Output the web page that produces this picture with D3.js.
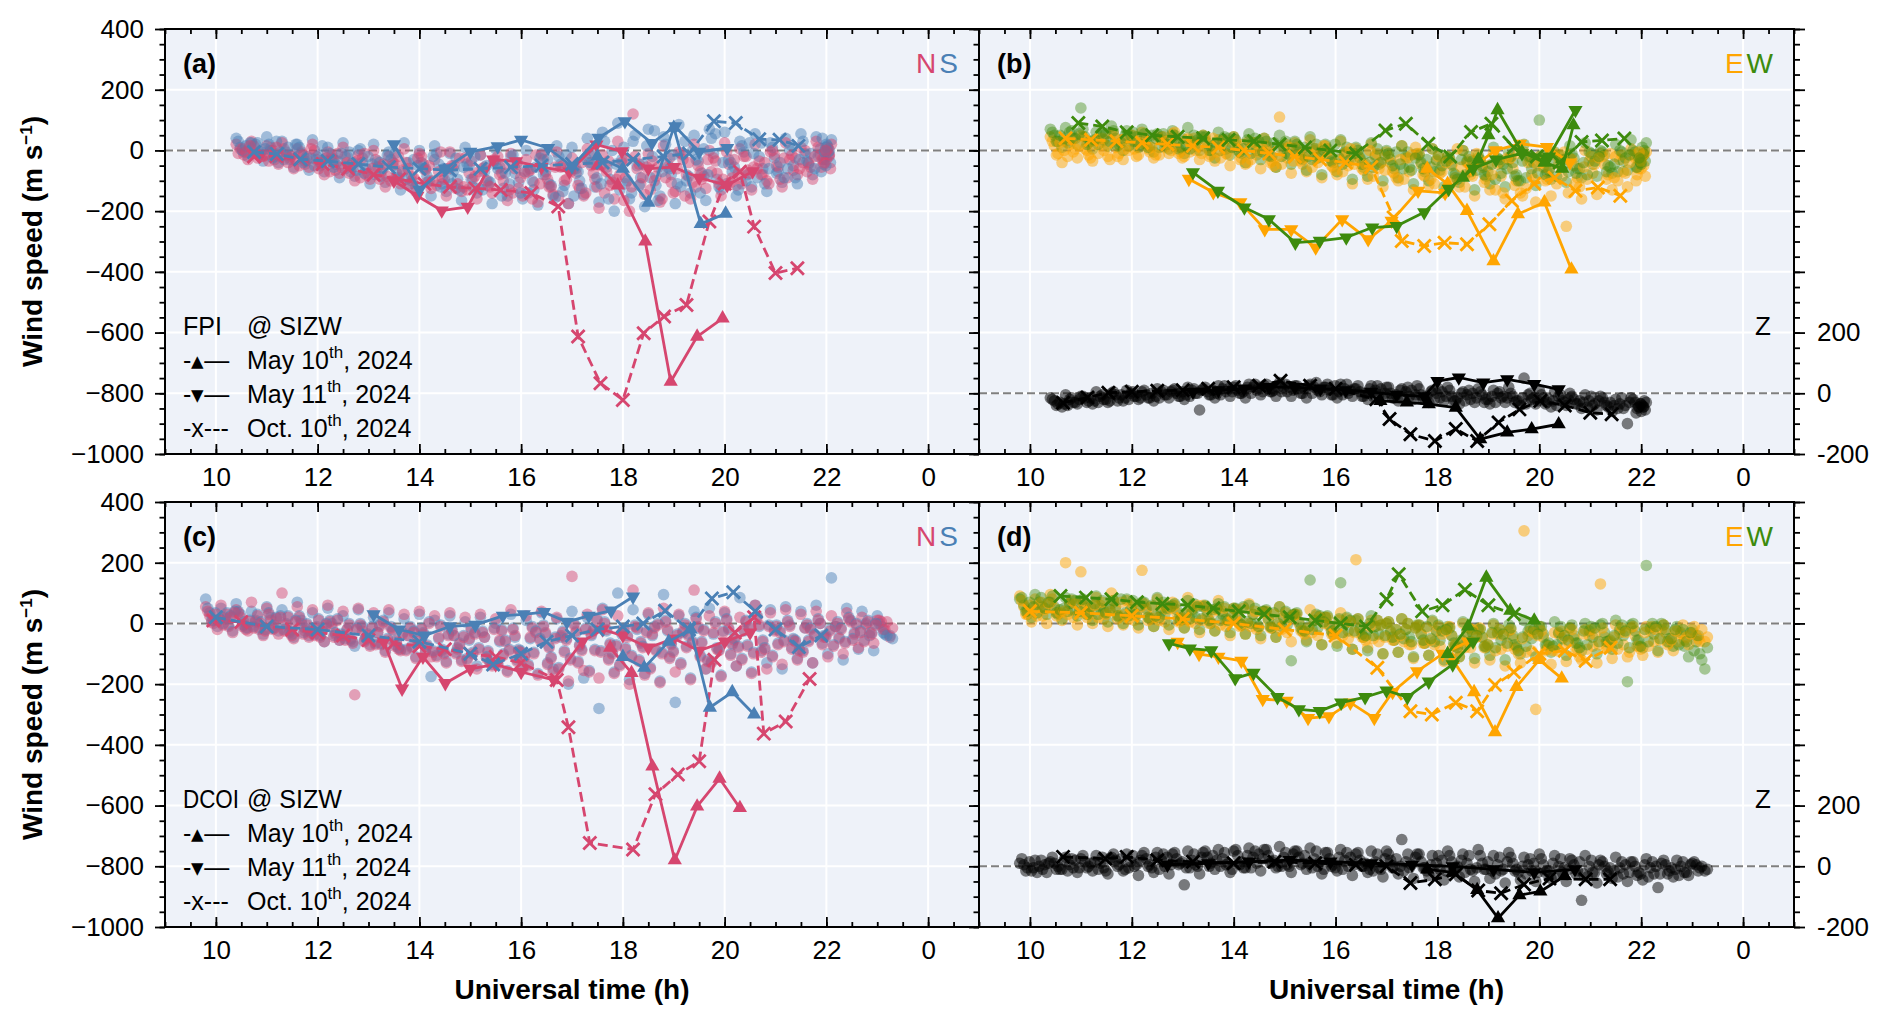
<!DOCTYPE html>
<html>
<head>
<meta charset="utf-8">
<script src="https://cdn.jsdelivr.net/npm/d3@7"></script>
<style>
  body { margin: 0; background: #ffffff; }
  svg text { font-family: "Liberation Sans", Arial, sans-serif; }
</style>
</head>
<body>
<svg id="fig" width="1892" height="1025"></svg>
<script>
// ---------------- axes / labels ----------------
const timeDomain = [9, 25];
const windDomain = [-1000, 400];
const vertDomain = [-200, 1200];
const xTicks = [10, 12, 14, 16, 18, 20, 22, 24];
const xMinor = [9, 9.5, 10, 10.5, 11, 11.5, 12, 12.5, 13, 13.5, 14, 14.5, 15, 15.5, 16, 16.5, 17, 17.5,
                18, 18.5, 19, 19.5, 20, 20.5, 21, 21.5, 22, 22.5, 23, 23.5, 24, 24.5, 25];
const yTicks = [-1000, -800, -600, -400, -200, 0, 200, 400];
const zTicks = [-200, 0, 200, 400, 600, 800, 1000, 1200];
const zTickLabels = [-200, 0, 200];
const legendSymbols = ["-\u25B4\u2014", "-\u25BE\u2014", "-x---"];
const legendDates = [["May 10", "th", ", 2024"], ["May 11", "th", ", 2024"], ["Oct. 10", "th", ", 2024"]];

// ---------------- background clouds: sample times (UT h) ----------------
const fpiT0 = [10.40,10.70,11.00,11.30,11.60,11.90,12.20,12.50,12.80,13.10,13.40,13.70,14.00,14.30,14.60,14.90,15.20,15.50,15.80,16.10,16.40,16.70,17.00,17.30,17.60,17.90,18.20,18.50,18.80,19.10,19.40,19.70,20.00,20.30,20.60,20.90,21.20,21.50,21.80,22.10];
const fpiT1 = [10.48,10.78,11.08,11.38,11.68,11.98,12.28,12.58,12.88,13.18,13.48,13.78,14.08,14.38,14.68,14.98,15.28,15.58,15.88,16.18,16.48,16.78,17.08,17.38,17.68,17.98,18.28,18.58,18.88,19.18,19.48,19.78,20.08,20.38,20.68,20.98,21.28,21.58,21.88,22.02];
const fpiT2 = [10.55,10.85,11.15,11.45,11.75,12.05,12.35,12.65,12.95,13.25,13.55,13.85,14.15,14.45,14.75,15.05,15.35,15.65,15.95,16.25,16.55,16.85,17.15,17.45,17.75,18.05,18.35,18.65,18.95,19.25,19.55,19.85,20.15,20.45,20.75,21.05,21.35,21.65,21.95,22.05];
const fpiT3 = [10.63,10.93,11.23,11.53,11.83,12.13,12.43,12.73,13.03,13.33,13.63,13.93,14.23,14.53,14.83,15.13,15.43,15.73,16.03,16.33,16.63,16.93,17.23,17.53,17.83,18.13,18.43,18.73,19.03,19.33,19.63,19.93,20.23,20.53,20.83,21.13,21.43,21.73,21.90,22.08];
const fpiT4 = [10.44,10.74,11.04,11.34,11.64,11.94,12.24,12.54,12.84,13.14,13.44,13.74,14.04,14.34,14.64,14.94,15.24,15.54,15.84,16.14,16.44,16.74,17.04,17.34,17.64,17.94,18.24,18.54,18.84,19.14,19.44,19.74,20.04,20.34,20.64,20.94,21.24,21.54,21.84,22.00];
const fpiT5 = [10.52,10.82,11.12,11.42,11.72,12.02,12.32,12.62,12.92,13.22,13.52,13.82,14.12,14.42,14.72,15.02,15.32,15.62,15.92,16.22,16.52,16.82,17.12,17.42,17.72,18.02,18.32,18.62,18.92,19.22,19.52,19.82,20.12,20.42,20.72,21.02,21.32,21.62,21.92,22.06];
const fpiT6 = [10.59,10.89,11.19,11.49,11.79,12.09,12.39,12.69,12.99,13.29,13.59,13.89,14.19,14.49,14.79,15.09,15.39,15.69,15.99,16.29,16.59,16.89,17.19,17.49,17.79,18.09,18.39,18.69,18.99,19.29,19.59,19.89,20.19,20.49,20.79,21.09,21.39,21.69,21.99,22.04];
const fpiT7 = [10.67,10.97,11.27,11.57,11.87,12.17,12.47,12.77,13.07,13.37,13.67,13.97,14.27,14.57,14.87,15.17,15.47,15.77,16.07,16.37,16.67,16.97,17.27,17.57,17.87,18.17,18.47,18.77,19.07,19.37,19.67,19.97,20.27,20.57,20.87,21.17,21.47,21.77,21.96,21.99];

const dcoT0 = [9.80,10.10,10.40,10.70,11.00,11.30,11.60,11.90,12.20,12.50,12.80,13.10,13.40,13.70,14.00,14.30,14.60,14.90,15.20,15.50,15.80,16.10,16.40,16.70,17.00,17.30,17.60,17.90,18.20,18.50,18.80,19.10,19.40,19.70,20.00,20.30,20.60,20.90,21.20,21.50,21.80,22.10,22.40,22.70,23.00];
const dcoT1 = [9.88,10.18,10.48,10.78,11.08,11.38,11.68,11.98,12.28,12.58,12.88,13.18,13.48,13.78,14.08,14.38,14.68,14.98,15.28,15.58,15.88,16.18,16.48,16.78,17.08,17.38,17.68,17.98,18.28,18.58,18.88,19.18,19.48,19.78,20.08,20.38,20.68,20.98,21.28,21.58,21.88,22.18,22.48,22.78,23.08];
const dcoT2 = [9.95,10.25,10.55,10.85,11.15,11.45,11.75,12.05,12.35,12.65,12.95,13.25,13.55,13.85,14.15,14.45,14.75,15.05,15.35,15.65,15.95,16.25,16.55,16.85,17.15,17.45,17.75,18.05,18.35,18.65,18.95,19.25,19.55,19.85,20.15,20.45,20.75,21.05,21.35,21.65,21.95,22.25,22.55,22.85,23.15];
const dcoT3 = [10.03,10.33,10.63,10.93,11.23,11.53,11.83,12.13,12.43,12.73,13.03,13.33,13.63,13.93,14.23,14.53,14.83,15.13,15.43,15.73,16.03,16.33,16.63,16.93,17.23,17.53,17.83,18.13,18.43,18.73,19.03,19.33,19.63,19.93,20.23,20.53,20.83,21.13,21.43,21.73,22.03,22.33,22.63,22.93,23.25];
const dcoT4 = [9.84,10.14,10.44,10.74,11.04,11.34,11.64,11.94,12.24,12.54,12.84,13.14,13.44,13.74,14.04,14.34,14.64,14.94,15.24,15.54,15.84,16.14,16.44,16.74,17.04,17.34,17.64,17.94,18.24,18.54,18.84,19.14,19.44,19.74,20.04,20.34,20.64,20.94,21.24,21.54,21.84,22.14,22.44,22.74,23.04];
const dcoT5 = [9.92,10.22,10.52,10.82,11.12,11.42,11.72,12.02,12.32,12.62,12.92,13.22,13.52,13.82,14.12,14.42,14.72,15.02,15.32,15.62,15.92,16.22,16.52,16.82,17.12,17.42,17.72,18.02,18.32,18.62,18.92,19.22,19.52,19.82,20.12,20.42,20.72,21.02,21.32,21.62,21.92,22.22,22.52,22.82,23.12];
const dcoT6 = [9.99,10.29,10.59,10.89,11.19,11.49,11.79,12.09,12.39,12.69,12.99,13.29,13.59,13.89,14.19,14.49,14.79,15.09,15.39,15.69,15.99,16.29,16.59,16.89,17.19,17.49,17.79,18.09,18.39,18.69,18.99,19.29,19.59,19.89,20.19,20.49,20.79,21.09,21.39,21.69,21.99,22.29,22.59,22.89,23.19];
const dcoT7 = [10.07,10.37,10.67,10.97,11.27,11.57,11.87,12.17,12.47,12.77,13.07,13.37,13.67,13.97,14.27,14.57,14.87,15.17,15.47,15.77,16.07,16.37,16.67,16.97,17.27,17.57,17.87,18.17,18.47,18.77,19.07,19.37,19.67,19.97,20.27,20.57,20.87,21.17,21.47,21.77,22.07,22.37,22.67,22.97,23.30];

// panel (a): FPI meridional, quiet-night samples (m/s)
const aN0 = [20,30,15,25,5,20,-5,10,-15,0,-20,5,-10,-30,-5,-25,-15,-35,-10,-30,-15,-5,-25,5,-15,30,120,-10,15,-5,20,0,25,5,20,-5,25,10,30,20];
const aN1 = [5,-5,10,-15,-5,-30,-15,-40,-25,-55,-40,-60,-45,-70,-50,-75,-55,-80,-60,-65,-80,-55,-75,-50,-70,-40,-60,-35,-55,-30,-50,-25,-45,-20,-35,-15,-30,0,-15,10];
const aN2 = [-15,-10,-30,-25,-45,-40,-65,-50,-80,-70,-95,-85,-105,-90,-110,-95,-115,-100,-125,-105,-120,-100,-125,-95,-115,-90,-110,-85,-105,-80,-95,-75,-90,-65,-80,-55,-65,-40,-45,-20];
const aN3 = [-30,-20,-45,-60,-55,-80,-75,-100,-95,-120,-110,-135,-125,-150,-135,-160,-140,-165,-150,-170,-145,-175,-150,-190,-160,-200,-145,-170,-135,-160,-125,-150,-115,-130,-100,-120,-80,-95,-55,-60];
const aN4 = [-10,15,-35,5,-50,0,-70,-20,-90,-30,-100,-40,-20,-115,-50,-130,-60,-20,-140,-70,-30,-150,-60,-10,-140,-80,-20,-130,-90,-10,-120,-70,-5,-110,-60,0,-90,-40,10,-30];
const aN5 = [5,-25,0,-40,-15,-60,-30,-75,-10,-95,-45,-110,-65,-5,-125,-35,-100,-75,-45,-160,-95,-50,-115,-75,-35,-165,-45,-100,-25,-150,-70,-35,-105,-20,-80,-50,-15,-70,-30,-15];
const aN6 = [-5,-20,10,-20,-30,-45,-10,-55,-75,-45,-20,-90,-50,-95,-25,-85,-120,-45,-90,-15,-120,-95,-40,-120,-105,-30,-90,-55,-140,-40,-85,-110,-30,-75,-40,-95,-25,-55,-5,5];
const aN7 = [15,-15,-20,-30,5,-25,-55,-35,-60,-85,-65,-25,-100,-60,-120,-70,-30,-130,-75,-110,-55,-70,-140,-50,-95,-120,-55,-160,-60,-105,-30,-95,-75,-55,-110,-25,-60,-20,-40,0];
const aS0 = [40,25,45,30,20,35,10,25,0,20,-5,25,0,15,-10,10,-15,5,-20,0,-10,15,10,40,60,90,30,70,45,85,50,70,60,30,55,25,40,55,45,35];
const aS1 = [10,20,0,-5,-10,-20,-25,-20,-40,-35,-50,-40,-60,-45,-65,-50,-70,-55,-75,-60,-70,-45,-60,-40,-55,-30,-50,-20,-45,-15,-35,-10,-30,-5,-20,-25,0,-10,5,15];
const aS2 = [-5,-15,-20,-30,-35,-50,-45,-70,-60,-85,-75,-100,-85,-110,-95,-120,-100,-125,-105,-130,-110,-115,-100,-120,-95,-110,-90,-115,-80,-100,-75,-95,-70,-80,-60,-70,-50,-45,-30,-15];
const aS3 = [-20,-35,-40,-55,-65,-70,-90,-85,-110,-105,-130,-120,-150,-135,-165,-140,-175,-150,-160,-180,-150,-175,-145,-170,-200,-160,-185,-150,-175,-140,-165,-130,-150,-120,-135,-105,-110,-80,-70,-40];
const aS4 = [30,-10,20,-30,10,-50,-10,-60,5,-80,-30,-95,-40,-10,-110,-45,-130,-60,-15,-140,-80,-20,-150,-40,30,-130,50,-90,20,-120,-30,40,-110,15,-90,10,-60,30,-20,20];
const aS5 = [0,25,-25,10,-40,-15,-55,-5,-75,-40,-10,-110,-60,-120,-25,-95,-50,-150,-40,-100,-30,-135,-70,-5,-160,10,-115,65,-60,30,-140,55,-40,-100,25,-75,15,-35,40,0];
const aS6 = [15,-5,30,-15,-20,15,-35,-40,-20,-60,-90,-30,-100,-60,-130,-20,-105,-75,-140,-55,-115,-15,-125,-90,0,-100,-45,-165,-15,-85,5,-120,-55,25,-110,-40,-90,-10,-50,-5];
const aS7 = [25,5,-5,20,-25,-35,-10,-65,-45,-15,-70,-50,-20,-90,-55,-125,-35,-110,-70,-25,-155,-60,-25,-110,-45,-140,15,-70,-110,0,-80,-40,-130,-10,-60,-90,-30,-60,-5,10];

// panel (b): FPI zonal + vertical
const bE0 = [45,30,50,35,55,40,60,45,55,40,50,35,45,30,40,110,25,35,15,30,5,20,-5,15,-15,5,-20,0,-25,-10,-30,-5,-20,-15,-25,0,-10,-20,5,-5];
const bE1 = [15,20,5,25,10,30,15,35,20,25,10,20,0,15,-5,5,-15,0,-25,-10,-30,-20,-40,-25,-45,-35,-50,-40,-55,-45,-60,-40,-55,-45,-50,-35,-45,-30,-25,-20];
const bE2 = [-10,-5,-15,0,-10,5,-5,10,-5,0,-15,-10,-25,-15,-35,-25,-45,-40,-55,-50,-65,-60,-75,-70,-85,-75,-90,-80,-95,-85,-100,-80,-95,-85,-90,-75,-80,-70,-60,-50];
const bE3 = [-40,-25,-35,-20,-30,-15,-25,-10,-20,-30,-35,-50,-45,-60,-55,-75,-70,-90,-80,-110,-95,-120,-100,-130,-115,-140,-120,-150,-130,-160,-140,-170,-150,-250,-160,-145,-130,-120,-100,-85];
const bE4 = [30,-20,45,-10,55,0,40,-15,60,-5,35,-25,30,-30,15,-45,10,-55,-5,-70,-15,-85,-20,-95,-10,-110,-30,-120,-35,-130,-25,-125,-40,-110,-30,-95,-20,-100,-15,-60];
const bE5 = [-15,35,0,40,-20,50,5,45,-10,40,-20,35,-30,25,-40,20,-35,5,-50,-5,-60,-10,-70,-25,-80,-20,-100,-30,-105,-40,-115,-35,-100,-30,-105,-20,-95,-15,-80,-10];
const bE6 = [25,5,-25,15,35,-20,10,30,-25,15,40,-15,20,-5,-50,10,-25,-20,-65,5,-45,-40,-90,-15,-60,-70,5,-85,-50,-140,-10,-95,-60,-5,-120,-45,-10,-75,-35,-15];
const bE7 = [0,15,20,-30,5,25,-15,0,35,-10,-5,25,-40,5,-20,-35,-5,15,-30,-45,0,-65,-30,10,-95,-40,-55,-10,-80,-25,-150,-50,-5,-140,-55,-25,-90,-40,-5,-30];
const bW0 = [70,75,140,60,80,65,70,55,65,75,50,60,45,55,40,50,30,45,20,35,10,25,0,15,-10,5,-20,0,-15,10,-5,20,100,-5,15,25,0,20,35,25];
const bW1 = [50,60,45,55,40,50,35,45,40,30,25,35,15,25,10,15,-5,5,-15,-5,-25,-15,-30,-20,-40,-30,-45,-35,-50,-25,-40,-20,-35,-15,-25,-5,-15,0,-5,10];
const bW2 = [30,40,25,35,20,30,15,25,10,20,0,5,-10,0,-20,-10,-30,-25,-40,-35,-55,-45,-60,-55,-70,-65,-80,-70,-85,-75,-80,-60,-70,-55,-60,-45,-50,-35,-30,-15];
const bW3 = [10,20,5,15,0,10,-5,5,-10,0,-25,-15,-40,-30,-55,-45,-65,-80,-70,-95,-85,-100,-90,-110,-100,-120,-105,-130,-110,-120,-100,-115,-95,-105,-90,-85,-75,-65,-55,-35];
const bW4 = [60,25,70,20,65,15,55,10,50,5,45,0,35,-10,30,-20,20,-30,5,-45,0,-55,-10,-60,-15,-70,-25,-80,-30,-95,-20,-90,-15,-85,-10,-80,-5,-70,0,-45];
const bW5 = [30,65,20,60,15,60,10,55,5,50,0,45,-5,40,-20,30,-25,20,-35,10,-45,5,-50,-5,-60,-15,-75,-20,-80,-30,-85,-20,-80,-15,-75,-10,-70,-5,-55,0];
const bW6 = [50,40,30,55,25,45,50,20,40,35,15,40,5,30,25,-15,10,-20,20,-30,-10,-40,-5,-65,-30,-50,-95,-35,-70,-45,-100,-40,-65,-30,-60,-35,-55,-25,-40,-10];
const bW7 = [40,55,35,30,50,20,40,30,15,45,25,10,35,-5,15,5,-20,0,-25,-10,-40,-15,-45,-25,-55,-35,-30,-65,-45,-60,-35,-75,-30,-70,-40,-20,-45,-15,-25,-30];
const bZ0 = [-15,-5,-10,5,0,10,5,15,10,20,15,25,20,30,25,35,25,30,20,30,15,25,20,15,25,10,20,5,15,10,20,50,10,5,0,-5,-10,-20,-15,-30];
const bZ1 = [-25,-20,-15,-10,-5,0,-5,5,0,10,5,15,10,20,15,20,15,20,10,15,5,10,0,5,-5,0,-10,-5,-5,0,-10,-5,-15,-10,-20,-25,-30,-35,-30,-40];
const bZ2 = [-35,-30,-25,-20,-15,-10,-15,-5,-10,0,-5,5,0,10,5,5,0,10,-5,0,-10,-5,-15,-10,-20,-15,-25,-20,-20,-15,-25,-20,-30,-25,-35,-40,-45,-50,-45,-45];
const bZ3 = [-45,-35,-35,-30,-25,-20,-25,-15,-20,-55,-15,-10,-15,-5,-10,-10,-15,-5,-15,-10,-20,-15,-25,-20,-30,-25,-35,-30,-35,-30,-40,-35,-45,-40,-50,-55,-60,-100,-65,-55];
const bZ4 = [-20,-40,-10,-30,5,-20,10,-15,15,-10,20,-5,25,0,30,5,25,0,30,-5,25,-10,20,-15,15,-20,10,-25,5,-30,0,-35,-5,-40,-10,-45,-15,-50,-20,-60];
const bZ5 = [-40,-15,-30,-5,-25,5,-15,10,-10,15,-5,25,0,30,5,30,0,35,-5,30,-10,25,-15,20,-20,15,-25,10,-30,5,-30,0,-35,-5,-35,-10,-40,-15,-50,-25];
const bZ6 = [-30,-30,-15,-20,-5,-10,0,-5,5,0,10,15,5,20,10,20,15,5,25,10,0,15,-5,10,-10,5,-15,0,-20,-10,-25,-15,-20,-30,-25,-35,-30,-40,-35,-45];
const bZ7 = [-35,-20,-25,-25,-15,-15,-10,5,-5,10,0,5,20,5,20,10,25,20,5,15,15,0,10,-5,5,-10,0,-15,-10,-15,-15,-25,-25,-20,-30,-25,-40,-30,-45,-35];

// panel (c): DCOI meridional
const cN0 = [55,60,45,70,50,100,55,45,60,40,50,35,45,30,40,25,35,20,30,15,45,25,40,20,155,30,45,25,110,35,50,30,110,25,40,20,60,35,45,30,40,25,35,20,10];
const cN1 = [25,15,20,5,10,-5,0,-15,-10,-20,-25,-30,-25,-40,-35,-45,-40,-50,-45,-55,-40,-45,-30,-40,-25,-35,-20,-30,-15,-35,-20,-25,-10,-30,-15,-20,-5,-25,-10,-15,0,-10,5,-5,5];
const cN2 = [0,-10,-5,-20,-15,-30,-25,-45,-35,-55,-50,-70,-60,-80,-75,-90,-85,-100,-95,-105,-90,-100,-80,-95,-75,-90,-70,-85,-65,-90,-70,-80,-65,-85,-70,-75,-60,-70,-55,-60,-45,-50,-35,-30,-20];
const cN3 = [-20,-30,-25,-40,-35,-50,-45,-60,-55,-235,-75,-95,-90,-115,-110,-130,-125,-150,-140,-160,-150,-170,-160,-190,-155,-180,-165,-200,-170,-195,-160,-185,-150,-175,-140,-165,-150,-135,-120,-130,-110,-100,-80,-65,-45];
const cN4 = [40,-5,35,-15,30,-25,20,-40,5,-55,-5,-70,-15,-90,-20,-110,-25,-120,-30,-135,-20,-140,-10,-150,-5,-160,0,-140,-10,-150,5,-135,15,-130,10,-120,20,-110,5,-95,10,-75,15,-60,10];
const cN5 = [5,30,-10,25,-20,20,-35,10,-45,-5,-60,-10,-75,-15,-95,-10,-100,-20,-115,-25,-125,-15,-135,-30,-130,-25,-120,-20,-125,-15,-115,-5,-110,0,-105,5,-95,-10,-85,-5,-70,0,-55,5,-20];
const cN6 = [30,20,-20,0,15,-40,-5,-25,10,-65,-40,5,-85,-30,0,-100,-70,-35,-130,-60,-95,-30,-115,-55,-90,10,-100,-45,-80,-5,-95,-40,-25,-90,-55,-15,-85,-30,-60,-20,-45,-20,-5,-35,5];
const cN7 = [10,35,5,-25,20,5,-30,-5,-40,-20,-15,-55,-35,-60,-95,-40,-45,-85,-20,-90,-110,-55,-50,-120,-20,-95,-75,-110,-30,-100,-40,-65,-125,-30,-80,-100,-10,-60,-90,-40,-25,-65,-30,-5,-15];
const cS0 = [80,50,65,40,55,45,70,35,50,25,45,20,35,15,30,10,25,5,20,0,30,10,35,15,40,20,50,100,45,30,95,25,40,50,35,85,60,45,55,40,60,150,50,40,25];
const cS1 = [35,20,30,10,20,0,10,-10,0,-20,-10,-30,-20,-40,-30,-50,-40,-55,-45,-60,-45,-50,-35,-45,-30,-40,-25,-35,-20,-40,-25,-30,-15,-35,-20,-25,-10,-20,-5,-15,0,-10,10,0,-10];
const cS2 = [10,-5,5,-15,-5,-25,-15,-40,-30,-50,-45,-65,-55,-75,-70,-85,-80,-95,-90,-100,-85,-95,-75,-90,-70,-85,-65,-80,-60,-85,-65,-75,-60,-80,-65,-70,-55,-65,-50,-55,-40,-45,-30,-40,-35];
const cS3 = [-10,-25,-15,-35,-25,-45,-40,-60,-55,-75,-70,-90,-85,-110,-175,-125,-120,-140,-135,-155,-145,-165,-150,-200,-180,-280,-160,-185,-165,-190,-260,-180,-150,-170,-140,-160,-130,-150,-115,-130,-100,-120,-85,-90,-40];
const cS4 = [50,0,40,-10,35,-20,25,-35,10,-50,0,-65,-10,-85,-15,-105,-20,-115,-25,-130,-15,-135,-5,-145,0,-155,5,-135,-5,-145,10,-130,20,-125,15,-115,25,-105,10,-90,15,-70,20,-55,0];
const cS5 = [10,35,-5,30,-15,25,-30,15,-40,0,-55,-5,-70,-10,-90,-5,-95,-15,-110,-20,-120,-10,-130,-25,-125,-20,-115,-15,-120,-10,-110,0,-105,5,-100,10,-90,-5,-80,0,-65,5,-50,10,-30];
const cS6 = [35,25,-15,5,20,-35,0,-20,15,-60,-35,10,-80,-25,5,-95,-65,-30,-125,-55,-90,-25,-110,-50,-85,15,-95,-40,-75,0,-90,-35,-20,-85,-50,-10,-80,-25,-55,-15,-40,-15,0,-30,-40];
const cS7 = [15,40,10,-20,25,10,-25,0,-35,-15,-10,-50,-30,-55,-90,-35,-40,-80,-15,-85,-105,-50,-45,-115,-15,-90,-70,-105,-25,-95,-35,-60,-120,-25,-75,-95,-5,-55,-85,-35,-20,-60,-25,0,-50];

// panel (d): DCOI zonal + vertical
const dE0 = [90,80,95,200,170,85,100,75,175,80,70,85,60,75,50,65,40,55,30,45,20,35,210,10,0,15,-10,5,-15,0,-20,-5,-25,305,-10,-30,-15,-20,130,-5,-15,-10,-20,-25,-30];
const dE1 = [55,60,50,65,55,60,45,55,40,50,35,45,25,40,20,30,10,20,0,10,-10,0,-20,-10,-30,-20,-35,-25,-40,-30,-45,-35,-50,-40,-45,-35,-50,-40,-45,-30,-40,-25,-30,-35,-40];
const dE2 = [30,25,35,20,30,15,25,10,20,5,15,0,5,-10,-5,-20,-15,-30,-25,-40,-35,-50,-45,-60,-55,-70,-65,-75,-70,-80,-75,-85,-80,-90,-85,-80,-85,-75,-80,-70,-75,-60,-65,-55,-60];
const dE3 = [5,0,10,-5,0,-10,-5,-15,-10,-20,-15,-30,-25,-40,-35,-50,-45,-60,-55,-70,-65,-85,-80,-100,-95,-115,-105,-125,-110,-130,-120,-140,-130,-283,-135,-125,-120,-130,-115,-110,-105,-95,-90,-70,-60];
const dE4 = [75,25,80,30,70,20,75,15,65,10,60,5,55,-5,45,-10,40,-20,30,-30,20,-40,15,-50,5,-60,-5,-70,-10,-80,-15,-90,-20,-95,-25,-90,-20,-85,-15,-85,-10,-75,-5,-60,-10];
const dE5 = [30,70,25,75,20,70,15,65,10,60,5,55,0,50,-10,40,-15,35,-25,25,-35,15,-45,10,-55,0,-65,-10,-75,-15,-80,-20,-85,-25,-90,-25,-85,-20,-80,-15,-75,-10,-70,-5,-50];
const dE6 = [60,45,35,65,50,30,70,25,55,45,15,60,40,5,50,-15,30,15,-35,20,-25,5,-55,-5,-20,-70,-15,-35,-90,-20,-70,-40,-100,-30,-75,-45,-110,-35,-60,-30,-85,-20,-55,-45,-20];
const dE7 = [45,65,40,35,60,40,30,55,20,50,30,10,45,20,0,35,-5,25,-15,0,10,-30,-10,-45,-40,-15,-55,-25,-60,-45,-35,-75,-50,-40,-90,-60,-35,-70,-45,-95,-30,-55,-25,-35,-45];
const dW0 = [80,95,70,85,75,90,65,80,70,85,60,75,55,65,50,60,40,55,30,143,20,134,10,25,0,15,-5,10,-10,5,-15,0,-5,10,-10,5,-15,0,-5,10,-5,191,0,-10,-20];
const dW1 = [60,70,55,65,60,50,55,45,50,40,45,35,40,30,25,30,15,20,5,10,-5,0,-15,-10,-25,-20,-35,-25,-40,-30,-45,-30,-40,-25,-35,-30,-40,-25,-30,-20,-25,-15,-20,-30,-60];
const dW2 = [40,55,30,45,35,40,20,35,15,30,10,20,0,15,-5,0,-15,-5,-25,-15,-35,-25,-45,-35,-55,-45,-65,-55,-75,-60,-80,-55,-75,-50,-70,-50,-65,-45,-60,-40,-55,-35,-50,-75,-100];
const dW3 = [20,30,15,25,10,5,0,-5,-10,-5,-15,-20,-25,-30,-35,-40,-45,-123,-60,-70,-75,-85,-90,-100,-95,-110,-105,-120,-110,-115,-105,-120,-100,-110,-95,-105,-90,-100,-85,-192,-80,-90,-75,-110,-150];
const dW4 = [85,35,90,40,80,30,75,25,70,20,65,15,60,10,50,0,45,-10,35,-20,25,-30,15,-40,5,-50,-5,-60,-15,-70,-20,-80,-15,-75,-10,-70,-5,-70,0,-65,0,-60,-5,-70,-90];
const dW5 = [40,85,35,80,30,75,25,75,20,70,15,65,10,55,0,50,-10,40,-15,30,-25,20,-35,10,-45,0,-55,-5,-65,-15,-75,-20,-70,-15,-70,-10,-65,-10,-60,-5,-55,0,-60,-20,-40];
const dW6 = [70,50,45,75,55,35,80,30,60,50,20,55,45,10,55,-10,35,20,-25,25,-20,10,-40,-5,-20,-60,-10,-25,-80,-30,-70,-35,-90,-20,-65,-40,-80,-15,-55,-25,-75,-10,-50,-60,-120];
const dW7 = [55,70,50,40,65,45,35,60,25,55,35,15,50,25,5,40,0,30,-10,5,15,-25,0,-40,-35,-15,-50,-20,-55,-40,-30,-65,-45,-35,-75,-55,-25,-60,-40,-80,-20,-50,-20,-30,-80];
const dZ0 = [10,20,15,30,25,35,30,40,35,45,40,50,45,55,50,60,55,65,50,60,45,55,40,50,50,88,40,35,50,40,55,35,45,30,40,35,25,35,20,30,15,25,10,20,10];
const dZ1 = [5,0,10,5,15,10,20,15,25,20,25,20,30,25,35,30,35,30,30,25,25,20,20,15,20,15,15,10,15,10,10,5,10,5,5,0,5,0,0,-5,0,-5,5,0,5];
const dZ2 = [-5,-10,0,-5,0,-5,5,0,5,0,10,5,10,5,15,10,15,5,10,0,5,0,0,-5,0,-5,-5,-10,-5,-10,-10,-15,-10,-15,-15,-20,-15,-20,-20,-25,-20,-25,-15,-20,-5];
const dZ3 = [-15,-20,-10,-20,-15,-25,-15,-30,-20,-25,-61,-25,-10,-20,-5,-15,-5,-20,-10,-25,-15,-30,-20,-35,-25,-40,-30,-45,-35,-50,-40,-55,-45,-50,-40,-50,-112,-55,-40,-50,-45,-70,-35,-30,-15];
const dZ4 = [25,-20,30,-15,35,-10,40,-5,45,-10,45,-5,50,0,55,-5,55,0,50,-5,45,-10,45,-15,40,-15,40,-20,35,-20,35,-25,30,-25,25,-30,20,-35,15,-35,15,-35,20,-30,15];
const dZ5 = [-15,20,-10,25,-5,30,0,35,0,40,5,40,0,45,5,50,10,45,5,50,0,45,0,40,-5,40,-5,35,-10,35,-10,30,-15,25,-20,25,-25,20,-25,15,-30,15,-25,15,-15];
const dZ6 = [15,5,-10,20,10,-15,25,5,-5,30,15,0,35,10,-5,40,20,0,35,15,-5,30,10,-10,25,5,-15,20,0,-15,15,-10,-20,10,-15,-5,15,-20,-5,5,-25,0,-5,-20,0];
const dZ7 = [-5,10,20,-5,15,25,-10,20,30,5,-5,30,20,-10,35,25,0,40,10,-10,30,5,-10,25,0,30,5,-15,20,-5,-15,15,0,-20,10,-10,-25,5,-15,-20,5,-25,-10,5,-10];

// ---------------- storm-night profiles [UT hour, m/s] ----------------
const aNMay10 = [[17.5,-50],[17.9,-115],[18.44,-300],[18.94,-762],[19.46,-613],[19.96,-553]];
const aNMay11 = [[13.5,-100],[13.96,-150],[14.44,-198],[14.95,-186],[15.45,-30],[15.9,-36],[16.4,-55],[16.95,-70],[17.48,19],[17.98,-3],[18.5,-60],[19.0,-55],[19.5,-90],[20.05,-115],[20.55,-69]];
const aNOct10 = [[10.75,-20],[11.19,-18],[11.65,-30],[12.1,-45],[12.6,-60],[13.1,-80],[13.6,-95],[14.1,-110],[14.6,-120],[15.1,-125],[15.6,-130],[16.2,-140],[16.73,-185],[17.12,-613],[17.56,-767],[18.0,-822],[18.41,-602],[18.81,-547],[19.25,-509],[19.7,-234],[20.0,-110],[20.3,-70],[20.58,-251],[21.0,-404],[21.43,-388]];
const aSMay10 = [[17.5,-20],[18.0,-60],[18.5,-172],[19.0,75],[19.53,-242],[20.02,-208]];
const aSMay11 = [[13.5,20],[14.0,-130],[14.5,-60],[15.0,-5],[15.54,13],[16.0,35],[16.53,8],[17.0,-53],[17.52,41],[18.04,96],[18.57,24],[19.03,79],[19.5,-5],[20.05,8]];
const aSOct10 = [[10.75,-5],[11.2,-12],[11.66,-29],[12.2,-35],[12.8,-45],[13.4,-55],[14.0,-60],[14.6,-65],[15.2,-60],[15.8,-55],[16.4,-50],[17.0,-45],[17.6,-40],[18.2,-30],[18.8,-20],[19.3,-10],[19.79,96],[20.22,90],[20.68,37],[21.08,35],[21.45,15]];

const bEMay10 = [[17.8,-60],[18.2,-110],[18.58,-199],[19.1,-365],[19.58,-210],[20.1,-171],[20.63,-392]];
const bEMay11 = [[13.12,-94],[13.6,-138],[14.13,-171],[14.61,-260],[15.13,-260],[15.61,-320],[16.13,-227],[16.64,-293],[17.1,-232],[17.62,-133],[18.15,-140],[18.65,-60],[19.14,0],[19.62,22],[20.15,11],[20.6,-40]];
const bEOct10 = [[10.7,40],[11.2,35],[11.7,30],[12.2,25],[12.7,20],[13.2,15],[13.7,10],[14.2,0],[14.7,-10],[15.2,-20],[15.7,-30],[16.2,-40],[16.7,-55],[17.14,-221],[17.3,-298],[17.74,-315],[18.14,-304],[18.58,-309],[19.02,-243],[19.46,-166],[19.9,-110],[20.3,-90],[20.71,-133],[21.15,-122],[21.59,-149]];
const bWMay10 = [[18.5,-90],[18.8,-30],[19.0,50],[19.18,133],[19.66,-5],[20.1,-40],[20.45,-60],[20.67,83]];
const bWMay11 = [[13.2,-72],[13.69,-133],[14.21,-188],[14.69,-227],[15.21,-304],[15.69,-298],[16.21,-287],[16.72,-254],[17.2,-249],[17.74,-204],[18.22,-127],[18.7,-60],[19.15,-30],[19.66,-10],[20.19,-20],[20.71,133]];
const bWOct10 = [[10.95,90],[11.42,79],[11.9,60],[12.4,50],[12.9,45],[13.4,40],[13.9,35],[14.4,30],[14.9,20],[15.4,10],[15.9,0],[16.4,-10],[16.98,66],[17.38,88],[17.82,22],[18.25,-20],[18.66,61],[19.06,88],[19.5,10],[19.95,-20],[20.4,-40],[20.83,28],[21.23,33],[21.67,39]];
const bZMay10 = [[16.88,-25],[17.4,-30],[17.83,-36],[18.36,-47],[18.84,-151],[19.37,-129],[19.85,-118],[20.38,-102]];
const bZMay11 = [[13.2,5],[13.7,10],[14.2,15],[14.7,20],[15.2,20],[15.7,15],[16.2,10],[16.7,5],[17.2,-5],[17.74,-10],[18.0,40],[18.42,52],[18.9,35],[19.37,46],[19.9,30],[20.38,13]];
const bZOct10 = [[10.65,-31],[11.13,-14],[11.54,2],[12.0,5],[12.5,8],[13.0,10],[13.5,15],[14.0,20],[14.5,25],[14.92,41],[15.5,25],[16.0,15],[16.8,-20],[17.06,-85],[17.47,-135],[17.95,-157],[18.36,-118],[18.78,-157],[19.2,-96],[19.61,-53],[20.02,-25],[20.5,-40],[21.0,-64],[21.42,-69]];

const cNMay10 = [[17.75,-80],[18.17,-163],[18.58,-471],[19.02,-780],[19.46,-603],[19.9,-511],[20.3,-608]];
const cNMay11 = [[13.3,-60],[13.66,-215],[14.07,-110],[14.51,-197],[15.0,-150],[15.5,-135],[16.0,-160],[16.64,-186],[17.2,-60],[17.6,-20],[18.0,-40],[18.5,-80],[19.0,-50],[19.5,-90],[20.0,-60],[20.5,-30]];
const cNOct10 = [[9.95,10],[10.5,5],[11.0,-10],[11.5,-20],[12.0,-30],[12.5,-40],[13.0,-55],[13.5,-65],[14.0,-75],[14.5,-85],[15.0,-100],[15.5,-110],[16.0,-130],[16.7,-186],[16.93,-342],[17.35,-723],[18.2,-745],[18.64,-563],[19.08,-498],[19.5,-454],[19.8,-120],[20.2,-30],[20.58,20],[20.77,-363],[21.2,-323],[21.67,-183]];
const cSMay10 = [[18.0,-110],[18.42,-146],[18.9,-60],[19.33,-20],[19.71,-277],[20.15,-226],[20.58,-300]];
const cSMay11 = [[13.1,30],[13.6,-20],[14.1,-40],[14.6,-10],[15.1,-5],[15.64,25],[16.05,30],[16.45,37],[16.9,5],[17.33,25],[17.77,42],[18.2,88]];
const cSOct10 = [[10.0,20],[11.0,-10],[12.0,-20],[13.0,-40],[14.0,-60],[15.0,-100],[15.45,-135],[16.0,-100],[16.5,-60],[17.0,-40],[17.5,-20],[18.0,-10],[18.4,0],[18.83,42],[19.3,-20],[19.75,82],[20.17,103],[20.6,40],[21.0,-20],[21.46,-78],[21.9,-40]];

const dEMay10 = [[18.3,-120],[18.72,-226],[19.13,-358],[19.55,-209],[20.0,-120],[20.44,-181]];
const dEMay11 = [[12.9,-61],[13.32,-101],[13.7,-110],[14.15,-123],[14.57,-249],[15.04,-255],[15.46,-312],[15.87,-306],[16.29,-261],[16.76,-312],[17.12,-226],[17.6,-158],[18.1,-100],[18.6,-60]];
const dEOct10 = [[10.0,40],[11.0,35],[12.0,25],[13.0,15],[14.0,0],[15.0,-20],[16.0,-40],[16.82,-146],[17.47,-289],[17.89,-300],[18.36,-261],[18.78,-289],[19.13,-203],[19.5,-160],[20.0,-100],[20.5,-90],[20.91,-123],[21.4,-80]];
const dWMay10 = [[18.2,-100],[18.6,-10],[18.96,151],[19.43,42],[19.9,10]];
const dWMay11 = [[12.73,-66],[13.14,-83],[13.56,-89],[14.03,-181],[14.39,-163],[14.86,-243],[15.28,-283],[15.69,-289],[16.11,-261],[16.58,-243],[17.0,-221],[17.41,-243],[17.83,-192],[18.3,-135],[18.7,-60]];
const dWOct10 = [[10.6,90],[11.1,85],[11.6,80],[12.1,70],[12.6,65],[13.1,60],[13.6,50],[14.1,40],[14.6,30],[15.1,20],[15.6,10],[16.1,0],[16.6,-10],[17.0,80],[17.24,162],[17.7,40],[18.1,60],[18.54,111],[19.0,60],[19.5,30]];
const dZMay10 = [[17.8,-10],[18.3,-20],[18.78,-78],[19.19,-171],[19.61,-95],[20.02,-83],[20.5,-32]];
const dZMay11 = [[12.7,5],[13.5,10],[14.3,15],[15.1,20],[15.9,15],[16.7,10],[17.5,5],[18.3,0],[19.1,-10],[19.9,-20],[20.7,-10]];
const dZOct10 = [[10.65,31],[11.48,25],[11.9,31],[12.5,20],[13.2,15],[14.0,10],[14.8,15],[15.6,10],[16.4,5],[17.0,0],[17.47,-55],[17.95,-43],[18.36,-26],[18.8,-80],[19.25,-89],[19.7,-60],[20.2,-40],[20.91,-43],[21.39,-43]];

// ---------------- style ----------------
const colN = "#d6466f", colS = "#4a80b5", colE = "#ffa500", colW = "#3d8b0d", colZ = "#000000";
const bgColor = "#eef2f9";

const svg = d3.select("#fig");
const colLeft = [165, 979], colRight = [979, 1794];
const rowTop = [29, 454], rowBottom = [502, 927];

function makePanel(id, cx, cy, twin) {
    let x = d3.scaleLinear().domain(timeDomain).range(cx);
    let y = d3.scaleLinear().domain(windDomain).range([cy[1], cy[0]]);
    let z = d3.scaleLinear().domain(vertDomain).range([cy[1], cy[0]]);
    let g = svg.append("g");

    svg.append("clipPath").attr("id", "clip-" + id)
        .append("rect")
        .attr("x", cx[0]).attr("y", cy[0])
        .attr("width", cx[1] - cx[0]).attr("height", cy[1] - cy[0]);

    g.append("rect")
        .attr("x", cx[0]).attr("y", cy[0])
        .attr("width", cx[1] - cx[0]).attr("height", cy[1] - cy[0])
        .attr("fill", bgColor);

    // white grid
    g.append("g").selectAll("line")
        .data(xTicks)
        .join("line")
        .attr("x1", d => x(d)).attr("x2", d => x(d))
        .attr("y1", cy[0]).attr("y2", cy[1])
        .attr("stroke", "#ffffff").attr("stroke-width", 2);
    g.append("g").selectAll("line")
        .data(yTicks.filter(d => d > -1000 && d < 400))
        .join("line")
        .attr("x1", cx[0]).attr("x2", cx[1])
        .attr("y1", d => y(d)).attr("y2", d => y(d))
        .attr("stroke", "#ffffff").attr("stroke-width", 2);

    let plot = g.append("g").attr("clip-path", "url(#clip-" + id + ")");

    // zero lines (horizontal and, for twin panels, vertical wind)
    let zeros = [y(0)];
    if (twin) zeros.push(z(0));
    plot.append("g").selectAll("line")
        .data(zeros)
        .join("line")
        .attr("x1", cx[0]).attr("x2", cx[1])
        .attr("y1", d => d).attr("y2", d => d)
        .attr("stroke", "#7f7f7f").attr("stroke-width", 2)
        .attr("stroke-dasharray", "8,4");

    return {id: id, g: g, plot: plot, x: x, y: y, z: z, cx: cx, cy: cy, twin: twin};
}

function drawCloud(p, times, vals, color, scale, alpha) {
    p.plot.append("g").selectAll("circle")
        .data(vals)
        .join("circle")
        .attr("cx", (d, i) => p.x(times[i]))
        .attr("cy", d => scale(d))
        .attr("r", 5.8)
        .attr("fill", color)
        .attr("fill-opacity", alpha);
}

function drawProfile(p, pts, color, scale, marker) {
    let line = d3.line().x(d => p.x(d[0])).y(d => scale(d[1]));
    p.plot.append("path")
        .datum(pts)
        .attr("d", line)
        .attr("fill", "none")
        .attr("stroke", color)
        .attr("stroke-width", 2.8)
        .attr("stroke-linejoin", "round")
        .attr("stroke-dasharray", marker === "x" ? "10,5" : null);

    let m = p.plot.append("g").selectAll("path")
        .data(pts)
        .join("path")
        .attr("transform", d => "translate(" + p.x(d[0]) + "," + scale(d[1]) + ")" + (marker === "down" ? " rotate(180)" : ""));
    if (marker === "x") {
        m.attr("d", "M-6.5,-6.5L6.5,6.5M-6.5,6.5L6.5,-6.5")
         .attr("stroke", color).attr("stroke-width", 2.8).attr("fill", "none");
    } else {
        m.attr("d", d3.symbol(d3.symbolTriangle, 88)())
         .attr("fill", color);
    }
}

function addAxis(g, axis, tx, ty) {
    let a = g.append("g")
        .attr("transform", "translate(" + tx + "," + ty + ")")
        .call(axis);
    a.select(".domain").remove();
    a.selectAll("line").attr("stroke", "#000").attr("stroke-width", 1.8);
    a.attr("font-size", 26).attr("font-family", '"Liberation Sans", Arial, sans-serif');
    a.selectAll("text").attr("fill", "#000");
    return a;
}

function minusFmt(d) {
    return d < 0 ? "\u2212" + (-d) : String(d);
}

function drawFrame(p) {
    let g = p.g, cx = p.cx, cy = p.cy;
    g.append("rect")
        .attr("x", cx[0]).attr("y", cy[0])
        .attr("width", cx[1] - cx[0]).attr("height", cy[1] - cy[0])
        .attr("fill", "none").attr("stroke", "#000").attr("stroke-width", 2);

    addAxis(g, d3.axisBottom(p.x).tickValues(xMinor).tickSize(-5).tickFormat(""), 0, cy[1]);
    addAxis(g, d3.axisBottom(p.x).tickValues(xTicks).tickSize(-10).tickPadding(14)
        .tickFormat(d => d === 24 ? "0" : String(d)), 0, cy[1]);
    addAxis(g, d3.axisTop(p.x).tickValues(xMinor).tickSize(-5).tickFormat(""), 0, cy[0]);
    addAxis(g, d3.axisTop(p.x).tickValues(xTicks).tickSize(-10).tickFormat(""), 0, cy[0]);

    let yMinor = d3.range(-1000, 401, 50);
    if (!p.twin) {
        addAxis(g, d3.axisLeft(p.y).tickValues(yMinor).tickSize(5.5).tickFormat(""), cx[0], 0);
        addAxis(g, d3.axisLeft(p.y).tickValues(yTicks).tickSize(10).tickPadding(11).tickFormat(minusFmt), cx[0], 0);
        addAxis(g, d3.axisRight(p.y).tickValues(yMinor).tickSize(-5.5).tickFormat(""), cx[1], 0);
        addAxis(g, d3.axisRight(p.y).tickValues(yTicks).tickSize(-10).tickFormat(""), cx[1], 0);
    } else {
        let zMinor = d3.range(-200, 1201, 50);
        addAxis(g, d3.axisRight(p.z).tickValues(zMinor).tickSize(6).tickFormat(""), cx[1], 0);
        addAxis(g, d3.axisRight(p.z).tickValues(zTicks).tickSize(11).tickPadding(12)
            .tickFormat(d => zTickLabels.includes(d) ? String(d) : ""), cx[1], 0);
    }
}

function drawTexts(p, tag, pair, inst) {
    let g = p.g, cx = p.cx, cy = p.cy;
    g.append("text")
        .attr("x", cx[0] + 18).attr("y", cy[0] + 44)
        .attr("font-size", 27).attr("font-weight", "bold")
        .text(tag);

    let t = g.append("text")
        .attr("x", cx[1] - 21).attr("y", cy[0] + 44)
        .attr("text-anchor", "end").attr("font-size", 28);
    t.append("tspan").attr("fill", pair[0][1]).text(pair[0][0]);
    t.append("tspan").attr("fill", pair[1][1]).attr("dx", 3).text(pair[1][0]);

    if (p.twin) {
        g.append("text")
            .attr("x", cx[1] - 23).attr("y", cy[0] + 306)
            .attr("text-anchor", "end").attr("font-size", 26)
            .text("Z");
    }

    if (inst) {
        let x0 = cx[0] + 18, x1 = cx[0] + 82, yb = cy[0] + 306;
        let it = g.append("text").attr("x", x0).attr("y", yb).attr("font-size", 25).text(inst);
        if (inst.length > 3) it.attr("textLength", 56).attr("lengthAdjust", "spacingAndGlyphs");
        g.append("text").attr("x", x1).attr("y", yb).attr("font-size", 25).text("@ SIZW");
        for (let i = 0; i < legendSymbols.length; i++) {
            let yy = yb + 34 * (i + 1);
            g.append("text").attr("x", x0).attr("y", yy).attr("font-size", 25)
                .text(legendSymbols[i]);
            let lt = g.append("text").attr("x", x1).attr("y", yy).attr("font-size", 25);
            lt.append("tspan").text(legendDates[i][0]);
            lt.append("tspan").attr("dy", -11).attr("font-size", 17).text(legendDates[i][1]);
            lt.append("tspan").attr("dy", 11).text(legendDates[i][2]);
        }
    }
}

// ---------------- panels ----------------
let pa = makePanel("a", colLeft, rowTop, false);
let pb = makePanel("b", colRight, rowTop, true);
let pc = makePanel("c", colLeft, rowBottom, false);
let pd = makePanel("d", colRight, rowBottom, true);

let fpiTimes = [fpiT0, fpiT1, fpiT2, fpiT3, fpiT4, fpiT5, fpiT6, fpiT7];
let dcoTimes = [dcoT0, dcoT1, dcoT2, dcoT3, dcoT4, dcoT5, dcoT6, dcoT7];

// (a)
let aNRows = [aN0, aN1, aN2, aN3, aN4, aN5, aN6, aN7];
let aSRows = [aS0, aS1, aS2, aS3, aS4, aS5, aS6, aS7];
for (let k = 0; k < 8; k++) {
    drawCloud(pa, fpiTimes[k], aSRows[k], colS, pa.y, 0.48);
    drawCloud(pa, fpiTimes[k], aNRows[k], colN, pa.y, 0.48);
}
drawProfile(pa, aNOct10, colN, pa.y, "x");
drawProfile(pa, aNMay11, colN, pa.y, "down");
drawProfile(pa, aNMay10, colN, pa.y, "up");
drawProfile(pa, aSOct10, colS, pa.y, "x");
drawProfile(pa, aSMay11, colS, pa.y, "down");
drawProfile(pa, aSMay10, colS, pa.y, "up");

// (b)
let bERows = [bE0, bE1, bE2, bE3, bE4, bE5, bE6, bE7];
let bWRows = [bW0, bW1, bW2, bW3, bW4, bW5, bW6, bW7];
let bZRows = [bZ0, bZ1, bZ2, bZ3, bZ4, bZ5, bZ6, bZ7];
for (let k = 0; k < 8; k++) {
    drawCloud(pb, fpiTimes[k], bERows[k], colE, pb.y, 0.5);
    drawCloud(pb, fpiTimes[k], bWRows[k], colW, pb.y, 0.42);
    drawCloud(pb, fpiTimes[k], bZRows[k], colZ, pb.z, 0.5);
}
drawProfile(pb, bEOct10, colE, pb.y, "x");
drawProfile(pb, bEMay11, colE, pb.y, "down");
drawProfile(pb, bEMay10, colE, pb.y, "up");
drawProfile(pb, bWOct10, colW, pb.y, "x");
drawProfile(pb, bWMay11, colW, pb.y, "down");
drawProfile(pb, bWMay10, colW, pb.y, "up");
drawProfile(pb, bZOct10, colZ, pb.z, "x");
drawProfile(pb, bZMay11, colZ, pb.z, "down");
drawProfile(pb, bZMay10, colZ, pb.z, "up");

// (c)
let cNRows = [cN0, cN1, cN2, cN3, cN4, cN5, cN6, cN7];
let cSRows = [cS0, cS1, cS2, cS3, cS4, cS5, cS6, cS7];
for (let k = 0; k < 8; k++) {
    drawCloud(pc, dcoTimes[k], cSRows[k], colS, pc.y, 0.48);
    drawCloud(pc, dcoTimes[k], cNRows[k], colN, pc.y, 0.48);
}
drawProfile(pc, cNOct10, colN, pc.y, "x");
drawProfile(pc, cNMay11, colN, pc.y, "down");
drawProfile(pc, cNMay10, colN, pc.y, "up");
drawProfile(pc, cSOct10, colS, pc.y, "x");
drawProfile(pc, cSMay11, colS, pc.y, "down");
drawProfile(pc, cSMay10, colS, pc.y, "up");

// (d)
let dERows = [dE0, dE1, dE2, dE3, dE4, dE5, dE6, dE7];
let dWRows = [dW0, dW1, dW2, dW3, dW4, dW5, dW6, dW7];
let dZRows = [dZ0, dZ1, dZ2, dZ3, dZ4, dZ5, dZ6, dZ7];
for (let k = 0; k < 8; k++) {
    drawCloud(pd, dcoTimes[k], dERows[k], colE, pd.y, 0.5);
    drawCloud(pd, dcoTimes[k], dWRows[k], colW, pd.y, 0.42);
    drawCloud(pd, dcoTimes[k], dZRows[k], colZ, pd.z, 0.5);
}
drawProfile(pd, dEOct10, colE, pd.y, "x");
drawProfile(pd, dEMay11, colE, pd.y, "down");
drawProfile(pd, dEMay10, colE, pd.y, "up");
drawProfile(pd, dWOct10, colW, pd.y, "x");
drawProfile(pd, dWMay11, colW, pd.y, "down");
drawProfile(pd, dWMay10, colW, pd.y, "up");
drawProfile(pd, dZOct10, colZ, pd.z, "x");
drawProfile(pd, dZMay11, colZ, pd.z, "down");
drawProfile(pd, dZMay10, colZ, pd.z, "up");

[pa, pb, pc, pd].forEach(drawFrame);

drawTexts(pa, "(a)", [["N", colN], ["S", colS]], "FPI");
drawTexts(pb, "(b)", [["E", colE], ["W", colW]], null);
drawTexts(pc, "(c)", [["N", colN], ["S", colS]], "DCOI");
drawTexts(pd, "(d)", [["E", colE], ["W", colW]], null);

// axis titles
[rowTop, rowBottom].forEach(r => {
    let t = svg.append("text")
        .attr("transform", "translate(42," + ((r[0] + r[1]) / 2) + ") rotate(-90)")
        .attr("text-anchor", "middle")
        .attr("font-weight", "bold")
        .attr("font-size", 28);
    t.append("tspan").text("Wind speed (m s");
    t.append("tspan").attr("dy", -10).attr("font-size", 17).text("\u22121");
    t.append("tspan").attr("dy", 10).text(")");
});
[colLeft, colRight].forEach(c => {
    svg.append("text")
        .attr("x", (c[0] + c[1]) / 2).attr("y", 999)
        .attr("text-anchor", "middle")
        .attr("font-weight", "bold")
        .attr("font-size", 28)
        .text("Universal time (h)");
});
</script>
</body>
</html>
